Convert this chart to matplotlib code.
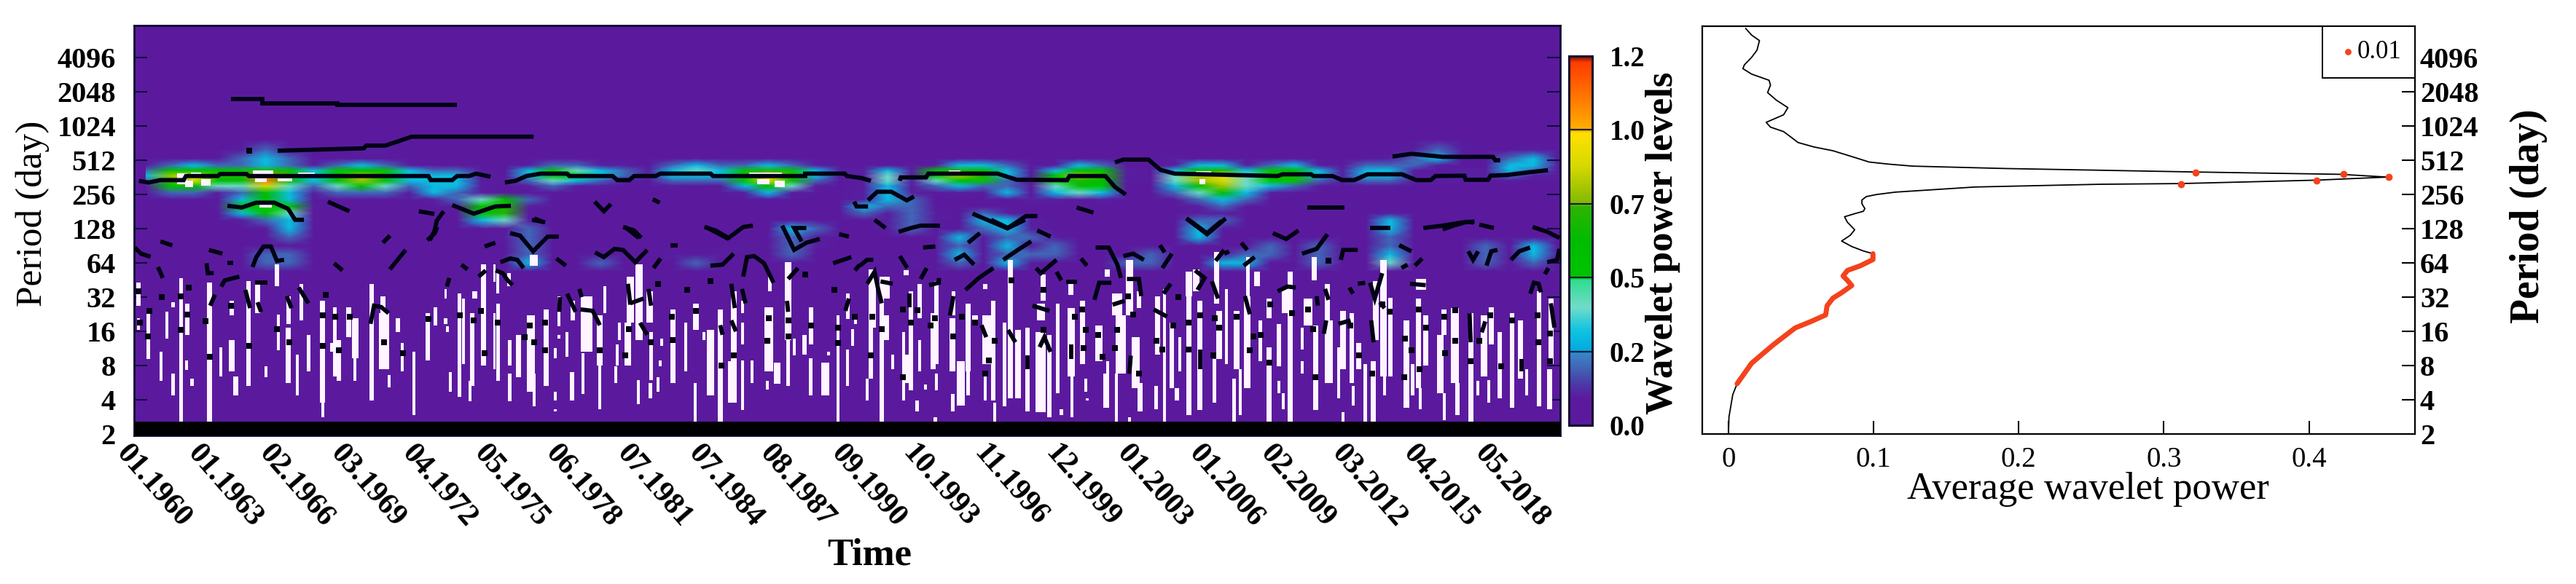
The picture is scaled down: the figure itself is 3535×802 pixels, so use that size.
import numpy as np
import matplotlib
matplotlib.use("Agg")
import matplotlib.pyplot as plt
from matplotlib.colors import LinearSegmentedColormap, Normalize
from matplotlib.cm import ScalarMappable
from matplotlib.transforms import ScaledTranslation

plt.rcParams['font.family'] = ['Liberation Serif', 'DejaVu Serif']

W, H = 3535, 802

# time axis of the wavelet panel, in years
tick_t = [1960, 1962.99, 1965.98, 1968.96, 1971.95, 1974.94, 1977.93, 1980.92, 1983.9, 1986.89,
          1989.88, 1992.87, 1995.86, 1998.84, 2001.83, 2004.82, 2007.81, 2010.8, 2013.78, 2016.77]
tick_dates = ['01.1960', '01.1963', '02.1966', '03.1969', '04.1972', '05.1975', '06.1978', '07.1981',
              '07.1984', '08.1987', '09.1990', '10.1993', '11.1996', '12.1999', '01.2003', '01.2006',
              '02.2009', '03.2012', '04.2015', '05.2018']
t_end = 2019.61

period_log2 = [1, 2, 3, 4, 5, 6, 7, 8, 9, 10, 11, 12]
period_labels = ['2', '4', '8', '16', '32', '64', '128', '256', '512', '1024', '2048', '4096']
cone_top = 1.36  # black strip at the bottom

# power grid, one column per year, digit = power * 10 (a, b = 1.0, 1.1)
power_rows = [
    (9.6,  "0000000000 0000000000 0000000000 0000000000 0000000000 0000000000"),
    (9.3,  "0000121001 1000000000 0000000000 0000000000 0000000000 0001210010"),
    (9.05, "0000232000 0000000000 0000000000 0000000000 0001000000 0012300230"),
    (8.85, "1232232123 2100001221 1023223210 0001332013 2001331231 0222100331"),
    (8.7,  "2565575356 5322103543 2134357531 1315763036 5103673563 1331011321"),
    (8.55, "38977b7368 7333103653 213336a731 1415873058 7104894673 1331111211"),
    (8.4,  "27966b6368 6333102432 1022259620 1414652057 6104894552 1221110100"),
    (8.25, "1564494245 4233101211 0010036410 1312322046 5003684321 0110000000"),
    (8.05, "0221263122 2132100000 0000013100 1310103034 3002463100 0000000000"),
    (7.85, "0000363000 0012462000 0000000000 1320000110 1000232000 0000000000"),
    (7.65, "0001555100 0001671000 0000000000 3220000000 0000120001 1000000000"),
    (7.45, "0000354000 0000670000 0000000000 2121021000 0000110000 0010000000"),
    (7.25, "0000123000 0000341000 0000000000 0121033100 0000220000 0030000000"),
    (7.0,  "0000003000 0000002000 0000000320 0120023100 0000310000 0030000000"),
    (6.75, "0000002000 0000012000 0000000210 0000302210 0000300000 0020000000"),
    (6.5,  "0000000000 0000002000 0000010210 0000203020 0000000202 0020002030"),
    (6.25, "0000022000 0000002001 0010100200 0000302220 0020002202 0030002030"),
    (6.0,  "0000022000 0000003002 0002000100 1010203100 0220033002 0040002020"),
    (5.75, "0000010000 0000000000 0000000000 0000000000 0000000000 0000000000"),
    (5.5,  "0000000000 0000000000 0000000000 0000000000 0000000000 0000000000"),
]

# white cells: (time, duration in years, upper log2 period, lower log2 period)
streaks_1960 = [
    (1960.18, .2, 5.42, 4.75), (1960.18, .15, 4.39, 4.04), (1960.59, .2, 4.6, 3.19), (1961.13, .15, 3.4, 2.55),
    (1961.38, .15, 4.57, 3.79), (1961.63, .15, 2.76, 2.12), (1961.63, .15, 4.85, 4.71), (1961.96, .2, 5.56, 1.36),
    (1962.23, .2, 4.82, 3.9), (1962.19, .15, 3.15, 2.87), (1962.42, .2, 2.62, 2.41), (1963.15, .25, 5.42, 1.36),
    (1963.62, .15, 3.54, 2.69), (1964.09, .3, 3.75, 2.83), (1964.26, .25, 2.69, 2.12), (1964.09, .2, 4.89, 4.46),
    (1964.78, .2, 5.46, 2.41), (1965.16, .25, 5.39, 4.53), (1965.51, .15, 2.98, 2.66), (1965.97, .25, 5.95, 5.31),
    (1966.02, .15, 4.5, 3.44), (1966.46, .2, 5.03, 4.22), (1966.43, .25, 4.11, 2.48), (1966.83, .15, 3.33, 2.12),
    (1966.99, .15, 5.39, 4.32), (1967.29, .2, 3.9, 2.83), (1967.88, .25, 4.89, 1.91), (1967.9, .15, 1.91, 1.49),
    (1968.39, .2, 4.71, 2.69), (1968.56, .2, 3.75, 2.55), (1968.28, .2, 3.65, 3.4), (1968.96, .25, 4.71, 3.83),
    (1969.24, .3, 4.39, 3.22), (1969.24, .15, 3.22, 2.55), (1969.93, .2, 5.39, 1.98), (1970.44, .5, 4.53, 2.9),
    (1970.39, .25, 5.03, 4.46), (1970.66, .15, 2.73, 2.37), (1971.02, .2, 4.39, 3.97), (1971.22, .15, 3.65, 2.83),
    (1971.7, .15, 3.4, 1.56), (1972.28, .2, 4.53, 3.15), (1972.59, .2, 4.71, 4.18), (1973.02, .2, 4.39, 4.22),
    (1973.1, .15, 4.14, 3.97), (1973.21, .15, 2.8, 2.23), (1973.02, .1, 5.24, 4.96), (1973.6, .2, 5.1, 2.09),
    (1973.77, .15, 4.96, 3.05), (1974.14, .2, 4.53, 2.41), (1974.04, .15, 2.55, 1.95), (1974.24, .25, 5.17, 4.96),
    (1974.6, .25, 5.95, 3.0), (1975.07, .1, 5.95, 5.45), (1975.07, .1, 4.53, 2.9),
]
streaks_1975 = [
    (1975.21, .2, 4.82, 2.55), (1975.21, .15, 5.81, 5.1), (1975.7, .15, 3.75, 3.0), (1975.7, .15, 2.76, 1.95),
    (1975.67, .2, 5.7, 5.31), (1976.07, .25, 3.9, 2.66), (1976.58, .4, 4.46, 2.23), (1976.73, .15, 2.76, 1.8),
    (1976.71, .4, 6.24, 5.92), (1977.22, .25, 4.64, 2.41), (1977.6, .15, 3.51, 3.22), (1977.6, .15, 2.23, 1.98),
    (1977.6, .15, 1.73, 1.66), (1977.77, .15, 5.03, 4.14), (1977.77, .15, 3.9, 3.79), (1978.1, .15, 3.97, 3.26),
    (1978.31, .2, 2.8, 1.98), (1978.34, .2, 4.89, 4.32), (1978.76, .15, 3.36, 2.16), (1978.92, .55, 5.03, 3.4),
    (1979.47, .3, 4.46, 3.0), (1979.47, .15, 3.0, 1.73), (1979.68, .15, 5.32, 4.53), (1980.29, .15, 4.25, 3.75),
    (1980.19, .15, 3.61, 3.0), (1980.13, .15, 2.98, 2.48), (1980.64, .35, 4.25, 3.0), (1980.74, .35, 5.6, 4.25),
    (1981.1, .35, 5.95, 3.75), (1981.07, .15, 2.58, 1.88), (1981.55, .3, 5.17, 4.25), (1981.61, .15, 3.97, 2.58),
    (1981.58, .15, 2.48, 2.05), (1982.06, .15, 3.79, 3.58), (1981.99, .15, 3.15, 2.98), (1981.89, .15, 2.65, 2.23),
    (1982.52, .25, 4.64, 2.48), (1983.05, .15, 4.25, 2.83), (1983.48, .3, 4.82, 4.04), (1983.46, .15, 2.48, 1.36),
    (1983.82, .15, 3.97, 3.75), (1984.09, .35, 4.04, 2.12), (1984.5, .25, 4.64, 1.36), (1985.06, .3, 5.17, 3.0),
    (1985.01, .4, 3.12, 1.91), (1985.44, .15, 4.89, 4.53), (1985.44, .15, 4.25, 3.61), (1985.44, .15, 3.15, 1.7),
    (1985.82, .15, 3.15, 2.48), (1986.53, .4, 4.71, 2.83), (1986.88, .3, 3.08, 2.47), (1986.48, .15, 2.55, 2.3),
    (1986.58, .2, 5.67, 5.17), (1987.34, .3, 6.02, 3.75), (1987.34, .2, 3.75, 2.41), (1987.6, .15, 3.79, 3.29),
    (1988.02, .2, 3.9, 3.33), (1988.3, .2, 4.71, 3.61), (1988.28, .2, 3.22, 2.12), (1988.89, .4, 3.08, 2.12),
    (1989.02, .15, 3.4, 3.29), (1989.42, .15, 4.46, 1.36), (1989.83, .2, 5.1, 4.36), (1989.83, .15, 3.47, 2.41),
    (1990.03, .15, 4.07, 3.58), (1990.16, .15, 4.5, 4.22),
]
streaks_1990 = [
    (1990.85, .35, 5.81, 4.11), (1990.8, .2, 4.11, 2.62), (1990.64, .15, 2.62, 1.98), (1991.25, .2, 5.6, 1.36),
    (1991.41, .45, 5.6, 4.96), (1991.46, .25, 4.46, 3.75), (1991.71, .15, 3.33, 2.9), (1992.27, .25, 5.78, 5.63),
    (1992.17, .15, 3.97, 1.98), (1992.27, .3, 3.33, 2.48), (1992.47, .2, 5.17, 2.27), (1992.83, .15, 3.75, 2.83),
    (1992.73, .15, 1.98, 1.66), (1992.83, .2, 5.39, 4.39), (1993.08, .15, 2.44, 2.3), (1993.39, .25, 4.53, 2.9),
    (1993.54, .2, 5.46, 3.05), (1993.54, .15, 2.76, 2.27), (1993.49, .15, 1.49, 1.36), (1994.2, .3, 4.39, 2.83),
    (1994.25, .15, 5.17, 4.46), (1994.22, .15, 2.16, 1.66), (1994.55, .4, 3.12, 1.84), (1994.86, .25, 4.82, 2.83),
    (1994.86, .15, 2.83, 2.12), (1995.16, .3, 4.46, 4.32), (1995.57, .2, 5.39, 5.24), (1995.72, .6, 4.46, 3.05),
    (1995.57, .15, 2.76, 1.98), (1995.92, .2, 4.89, 1.98), (1995.97, .15, 1.91, 1.36), (1996.38, .2, 4.25, 1.8),
    (1996.63, .25, 6.09, 2.05), (1996.94, .3, 4.04, 2.05), (1997.34, .2, 4.11, 1.66), (1997.9, .4, 4.82, 4.32),
    (1998.0, .25, 5.67, 4.89), (1997.9, .5, 3.97, 1.63), (1998.26, .2, 3.9, 1.49), (1998.61, .2, 4.82, 2.2),
    (1998.76, .15, 1.73, 1.55), (1999.17, .35, 4.68, 2.69), (1999.19, .15, 2.69, 1.49), (1999.17, .25, 5.39, 5.07),
    (1999.63, .25, 4.89, 3.05), (1999.78, .15, 2.62, 2.23), (1999.83, .15, 2.05, 1.98), (2000.34, .35, 4.18, 3.12),
    (2000.69, .25, 5.81, 5.6), (2000.64, .3, 2.76, 1.77), (2000.69, .15, 3.12, 2.76), (2001.1, .5, 5.1, 4.46),
    (2001.05, .15, 2.76, 1.36), (2001.25, .5, 4.46, 2.76), (2001.6, .35, 6.09, 4.46), (2001.86, .4, 3.82, 2.34),
    (2002.06, .25, 2.48, 1.66), (2002.01, .2, 5.17, 4.68), (2001.6, .15, 1.49, 1.36), (2002.72, .15, 2.41, 1.73),
    (2002.77, .25, 5.03, 3.33), (2003.08, .15, 5.24, 1.36), (2003.38, .2, 4.25, 2.34), (2003.59, .2, 2.34, 1.98),
    (2003.72, .15, 3.82, 2.83), (2004.09, .3, 5.74, 5.03), (2004.09, .25, 5.03, 1.56), (2004.4, .3, 5.81, 5.17),
    (2004.55, .25, 4.89, 1.7), (2005.16, .2, 3.19, 1.91), (2005.26, .25, 6.31, 4.82), (2005.36, .3, 4.6, 3.19),
]
streaks_2005 = [
    (2005.67, .15, 5.24, 3.05), (2005.98, .15, 2.62, 1.36), (2006.08, .3, 4.6, 2.9), (2006.23, .15, 2.9, 1.56),
    (2006.53, .3, 5.03, 2.34), (2006.56, .2, 6.17, 5.03), (2006.94, .3, 5.74, 5.31), (2007.07, .2, 4.32, 3.12),
    (2007.45, .25, 4.96, 4.39), (2007.45, .25, 3.54, 1.36), (2007.85, .2, 4.22, 2.98), (2007.85, .15, 2.55, 2.2),
    (2008.04, .15, 2.2, 1.73), (2008.11, .35, 5.24, 4.53), (2008.31, .25, 5.74, 1.36), (2008.82, .15, 3.12, 2.76),
    (2008.82, .15, 4.11, 3.47), (2009.33, .25, 6.17, 5.49), (2009.07, .4, 4.96, 4.18), (2009.38, .25, 4.18, 1.7),
    (2009.88, .25, 5.39, 4.25), (2009.93, .4, 4.32, 2.48), (2010.34, .15, 3.54, 2.05), (2010.54, .3, 4.6, 2.9),
    (2010.54, .15, 1.63, 1.36), (2010.9, .2, 4.53, 2.48), (2010.95, .15, 2.41, 1.84), (2011.2, .25, 3.65, 2.9),
    (2011.46, .2, 3.05, 1.36), (2011.81, .25, 3.12, 1.36), (2011.91, .3, 5.46, 3.75), (2012.22, .3, 6.09, 2.69),
    (2012.27, .15, 2.69, 2.12), (2012.52, .2, 4.99, 2.69), (2013.18, .3, 4.32, 1.77), (2013.44, .2, 3.05, 2.12),
    (2013.69, .25, 4.96, 2.34), (2013.77, .15, 2.34, 1.73), (2013.79, .5, 5.53, 5.21), (2014.0, .25, 4.46, 3.0),
    (2014.6, .3, 3.9, 2.2), (2014.76, .25, 4.64, 3.9), (2014.76, .15, 2.2, 1.41), (2015.21, .4, 4.68, 2.48),
    (2015.31, .2, 2.48, 1.56), (2015.87, .25, 4.53, 1.36), (2016.18, .15, 2.55, 2.12), (2016.43, .35, 4.46, 2.69),
    (2016.63, .15, 2.58, 1.91), (2016.73, .25, 4.71, 3.61), (2017.09, .2, 3.97, 2.05), (2017.6, .25, 4.53, 1.77),
    (2017.95, .25, 4.32, 2.62), (2018.2, .15, 2.9, 2.12), (2018.72, .2, 5.17, 1.8), (2019.22, .25, 4.96, 3.05),
    (2019.17, .25, 2.9, 1.73),
]
# white patches inside the strongest part of the annual band
streaks_band = [
    (1962.0, .5, 8.62, 8.3), (1962.6, .5, 8.64, 8.5), (1963.0, .5, 8.45, 8.25), (1962.3, .4, 8.4, 8.22),
    (1965.4, 1.0, 8.7, 8.57), (1965.3, .6, 8.47, 8.36), (1966.3, .7, 8.47, 8.38), (1967.2, .8, 8.64, 8.57),
    (1965.5, .6, 7.72, 7.62), (1986.4, 1.6, 8.64, 8.57), (1986.3, .6, 8.45, 8.3), (1987.0, .5, 8.4, 8.22),
    (1994.3, .6, 8.7, 8.64), (2004.7, .75, 8.68, 8.62), (2004.65, .3, 8.45, 8.3),
]

# black ridge lines, (time, log2 period)
ridges_long = [
    [(1964.05, 10.79), (1965.37, 10.79), (1965.37, 10.67), (1968.5, 10.67), (1968.5, 10.61), (1973.5, 10.61)],
    [(1966.0, 9.28), (1969.6, 9.35), (1969.7, 9.43), (1970.5, 9.43), (1971.1, 9.57), (1971.6, 9.69), (1976.7, 9.69)],
    [(1960.2, 8.40), (1960.6, 8.35), (1961.1, 8.42), (1962.07, 8.42), (1962.17, 8.54), (1963.5, 8.54), (1963.6, 8.60),
     (1964.7, 8.60), (1964.8, 8.54), (1972.3, 8.54), (1972.4, 8.42), (1973.3, 8.42), (1973.5, 8.54), (1974.0, 8.54),
     (1974.3, 8.61), (1974.9, 8.52)],
    [(1975.5, 8.35), (1975.95, 8.40), (1976.4, 8.54), (1977.0, 8.61), (1978.1, 8.61), (1978.2, 8.54), (1980.0, 8.54),
     (1980.2, 8.42), (1980.7, 8.42), (1980.9, 8.54), (1981.8, 8.54), (1982.0, 8.61), (1984.1, 8.61), (1984.2, 8.54),
     (1988.05, 8.54), (1988.05, 8.61), (1989.7, 8.61), (1989.8, 8.54), (1990.4, 8.48), (1990.8, 8.40)],
    [(1992.0, 8.40), (1992.05, 8.50), (1993.1, 8.50), (1993.2, 8.61), (1996.1, 8.61), (1996.9, 8.43), (1999.0, 8.42),
     (1999.1, 8.54), (2000.6, 8.54), (2001.0, 8.22), (2001.45, 8.0)],
    [(2001.0, 8.94), (2001.35, 9.02), (2002.4, 9.02), (2002.9, 8.72), (2003.5, 8.61), (2007.8, 8.54), (2008.0, 8.59),
     (2009.2, 8.59), (2009.3, 8.54), (2010.1, 8.54), (2010.5, 8.42), (2011.0, 8.42), (2011.55, 8.59), (2013.0, 8.59),
     (2013.6, 8.42), (2014.2, 8.42), (2014.4, 8.54), (2015.6, 8.55), (2015.66, 8.43), (2016.6, 8.43), (2016.7, 8.55),
     (2017.4, 8.57), (2018.3, 8.65), (2019.1, 8.71)],
    [(2012.6, 9.11), (2013.4, 9.19), (2014.7, 9.10), (2016.8, 9.10), (2016.9, 9.0), (2017.1, 9.0)],
]
ridges_mid = [
    [(1963.9, 7.67), (1964.5, 7.62), (1965.1, 7.76), (1965.86, 7.76), (1966.44, 7.58), (1966.73, 7.26), (1967.1, 7.26)],
    [(1968.1, 7.79), (1969.0, 7.51)], [(1971.9, 7.51), (1972.55, 7.43)],
    [(1972.94, 7.51), (1972.65, 7.23), (1972.56, 6.94), (1972.36, 6.66)],
    [(1973.3, 7.69), (1974.2, 7.44), (1975.1, 7.65), (1975.75, 7.67)],
    [(1979.25, 7.79), (1979.64, 7.51), (1979.93, 7.72)], [(1981.68, 7.86), (1981.97, 7.76)],
    [(1976.73, 7.3), (1977.12, 7.19)], [(1980.52, 7.05), (1981.1, 6.73)], [(1983.9, 7.05), (1984.85, 6.7)],
    [(1990.1, 7.79), (1990.2, 7.65), (1990.68, 7.65)],
    [(1990.68, 7.83), (1991.06, 8.08), (1991.65, 8.08), (1992.3, 7.83), (1992.6, 7.94)],
    [(1995.05, 7.44), (1996.5, 7.01), (1997.28, 7.37), (1997.76, 7.37)],
    [(1999.4, 7.62), (2000.1, 7.47)], [(2003.98, 7.3), (2004.85, 6.84), (2005.63, 7.3)],
    [(2009.03, 7.62), (2010.6, 7.62)], [(2014.7, 6.98), (2015.2, 7.1), (2015.7, 7.2), (2016.0, 7.18)],
]
ridges_low_a = [
    [(1960.03, 6.45), (1960.29, 6.27), (1960.69, 6.18)], [(1961.1, 6.63), (1961.6, 6.51)], [(1961.0, 5.88), (1961.2, 5.56)],
    [(1963.13, 6.38), (1963.69, 6.27)], [(1963.03, 5.99), (1963.08, 5.70), (1963.33, 5.70)], [(1963.89, 6.01), (1964.14, 6.01)],
    [(1963.64, 5.31), (1963.79, 5.49), (1964.4, 5.6)],
    [(1964.95, 5.88), (1965.11, 6.17), (1965.41, 6.48), (1965.72, 6.48), (1965.97, 6.06), (1966.27, 6.09)],
    [(1965.06, 5.42), (1965.56, 5.42)], [(1964.65, 5.21), (1964.85, 4.68)], [(1965.16, 4.85), (1965.31, 4.57)],
    [(1970.4, 6.59), (1970.7, 6.80)], [(1970.69, 5.81), (1971.35, 6.38)], [(1972.26, 6.66), (1972.57, 6.87), (1972.67, 7.05)],
    [(1968.36, 5.99), (1968.71, 5.78)], [(1973.07, 5.31), (1973.18, 5.56)], [(1973.68, 5.95), (1973.94, 5.81)],
    [(1974.4, 5.6), (1974.7, 5.78)], [(1974.65, 6.48), (1975.1, 6.59)], [(1966.88, 5.28), (1967.29, 4.82)],
    [(1969.88, 4.22), (1970.03, 4.75), (1970.33, 4.71), (1970.64, 4.53)], [(1966.38, 5.03), (1966.58, 4.68)],
    [(1963.18, 4.75), (1963.38, 5.07)],
    [(1975.72, 6.87), (1976.13, 6.80), (1976.68, 6.34), (1977.29, 6.77), (1977.75, 6.77)],
    [(1975.31, 6.02), (1975.72, 6.13), (1976.02, 6.09), (1976.28, 5.85)],
    [(1975.11, 5.78), (1975.41, 5.70), (1975.57, 5.53), (1975.82, 5.35)], [(1976.63, 7.26), (1977.19, 7.19)],
    [(1980.44, 7.05), (1980.9, 6.95), (1981.2, 6.73)], [(1977.65, 6.13), (1978.05, 5.92)],
    [(1979.27, 6.31), (1979.63, 6.17), (1980.08, 6.41), (1980.44, 6.38), (1980.95, 6.02), (1981.45, 6.38)],
    [(1982.42, 6.52), (1982.72, 6.52)], [(1981.71, 5.85), (1982.01, 6.13)],
    [(1983.84, 7.05), (1984.3, 6.95), (1984.85, 6.73), (1985.46, 7.05), (1985.87, 7.09)],
    [(1984.09, 5.92), (1984.6, 5.95), (1985.06, 6.27)],
    [(1985.46, 5.6), (1985.62, 6.17), (1985.92, 6.2), (1986.33, 5.99), (1986.73, 5.42)],
    [(1987.09, 7.09), (1987.59, 6.38), (1988.1, 6.59), (1988.66, 6.7)], [(1987.9, 6.63), (1987.59, 7.02), (1988.1, 7.02)],
    [(1987.34, 5.53), (1987.75, 5.85)], [(1989.47, 6.84), (1989.88, 6.77)], [(1989.22, 5.99), (1989.98, 6.17)],
    [(1990.13, 5.78), (1990.33, 5.95)], [(1978.61, 5.24), (1978.71, 5.0)], [(1977.8, 5.0), (1977.77, 4.57)],
    [(1978.1, 5.1), (1978.46, 4.57)], [(1978.66, 4.64), (1979.17, 4.6), (1979.47, 4.18)], [(1980.64, 5.39), (1980.74, 4.78)],
    [(1980.74, 4.82), (1981.3, 4.96)], [(1981.5, 5.24), (1981.61, 4.75)], [(1981.15, 4.25), (1981.45, 3.9)],
    [(1984.5, 4.18), (1984.6, 3.9)], [(1984.96, 5.39), (1985.11, 4.68)], [(1985.41, 5.24), (1985.56, 4.82)],
    [(1984.96, 4.32), (1985.16, 4.0)], [(1987.29, 4.89), (1987.34, 4.57)], [(1989.73, 4.6), (1989.88, 4.96)],
]
ridges_low_b = [
    [(1990.95, 7.26), (1991.41, 7.02)], [(1991.96, 6.91), (1992.47, 7.02), (1992.88, 7.09), (1993.69, 7.09)],
    [(1992.98, 6.45), (1993.49, 6.48)], [(1994.86, 6.59), (1995.36, 6.87)], [(1994.3, 6.09), (1994.7, 6.24), (1995.11, 5.95)],
    [(1995.82, 7.26), (1996.53, 7.02), (1997.24, 7.26)], [(1997.75, 6.95), (1998.31, 6.77)],
    [(1996.33, 6.09), (1996.94, 6.38), (1997.5, 6.63)], [(1997.7, 5.85), (1997.9, 5.7), (1998.56, 6.09)],
    [(1992.01, 6.2), (1992.32, 5.85)], [(1990.34, 5.92), (1990.64, 6.09), (1990.9, 6.09)], [(1992.88, 5.53), (1993.13, 5.85)],
    [(1993.23, 5.35), (1993.64, 5.42), (1993.64, 5.56)], [(1994.75, 5.21), (1995.31, 5.56), (1995.92, 5.85)],
    [(1990.64, 5.39), (1990.95, 5.74), (1991.1, 5.24), (1991.25, 4.82)], [(1991.2, 5.46), (1991.71, 5.39)],
    [(1992.42, 5.1), (1992.42, 4.71)], [(1994.25, 5.03), (1994.1, 4.46)], [(1999.58, 6.13), (1999.83, 5.92)],
    [(2000.19, 6.45), (2000.74, 6.45), (2001.1, 5.95), (2001.25, 5.56)], [(2001.35, 6.2), (2001.76, 6.27), (2002.21, 6.09)],
    [(2002.88, 6.52), (2003.08, 6.31)], [(2002.98, 5.85), (2003.38, 6.27)],
    [(2000.14, 4.92), (2000.34, 5.42), (2000.85, 5.42)], [(1998.97, 5.44), (1999.42, 5.44)], [(1998.56, 5.74), (1998.76, 5.49)],
    [(2004.0, 7.3), (2004.85, 6.87), (2005.46, 7.23)], [(2005.21, 6.06), (2005.56, 6.38)],
    [(2004.35, 5.78), (2004.75, 5.56), (2004.45, 5.21)], [(2003.03, 5.1), (2003.33, 5.39)],
    [(2001.5, 5.53), (2002.0, 5.53), (2002.1, 5.03)], [(2000.9, 4.78), (2001.4, 4.89)], [(2005.05, 5.46), (2005.31, 4.96)],
    [(2002.62, 4.64), (2003.18, 4.43)], [(1997.55, 4.75), (1998.26, 4.6)], [(1996.53, 4.04), (1996.84, 3.68)],
    [(1997.85, 3.54), (1998.05, 3.83), (1998.31, 3.4)], [(1995.42, 4.18), (1995.62, 3.83)], [(1997.34, 3.29), (1997.34, 2.9)],
    [(2004.55, 3.47), (2004.55, 2.9)], [(2001.66, 3.29), (2001.6, 2.76)], [(1999.17, 3.61), (1999.17, 3.19)],
    [(2005.57, 6.27), (2005.77, 6.34)], [(2006.28, 6.59), (2006.53, 6.38)], [(2007.6, 6.87), (2008.16, 6.7), (2008.67, 6.95)],
    [(2008.82, 6.27), (2009.43, 6.41), (2009.88, 6.84)], [(2010.44, 6.09), (2010.54, 6.38), (2011.15, 6.38)],
    [(2011.66, 7.02), (2012.52, 7.02)], [(2012.88, 6.52), (2013.39, 6.34)], [(2013.54, 5.92), (2013.84, 6.13)],
    [(2012.98, 5.85), (2013.23, 5.95)], [(2013.89, 7.02), (2014.7, 7.09), (2015.57, 7.19), (2016.03, 7.21)],
    [(2016.23, 7.12), (2016.84, 7.02)], [(2015.77, 6.34), (2015.97, 6.09), (2016.18, 6.34)],
    [(2016.53, 5.92), (2016.73, 6.34), (2016.99, 6.38)], [(2017.55, 6.09), (2017.9, 6.34), (2018.35, 6.45)],
    [(2018.46, 7.05), (2019.07, 6.91), (2019.58, 6.73)], [(2019.07, 6.02), (2019.48, 6.09), (2019.58, 6.41)],
    [(2018.97, 5.67), (2019.12, 5.85)], [(2018.36, 5.1), (2018.51, 5.42), (2018.71, 5.39), (2018.81, 5.14)],
    [(2006.38, 5.92), (2006.84, 6.17)], [(2007.8, 5.17), (2008.21, 5.31), (2008.56, 5.28)], [(2011.15, 5.39), (2011.46, 5.42)],
    [(2010.8, 5.28), (2010.95, 5.1)], [(2011.66, 5.42), (2011.86, 4.96), (2012.17, 5.7)], [(2012.07, 4.85), (2012.27, 4.68)],
    [(2013.33, 5.39), (2013.99, 5.35)], [(2006.43, 5.03), (2006.64, 4.5)], [(2010.34, 4.22), (2010.85, 4.32)],
    [(2009.43, 5.03), (2009.48, 4.75)], [(2009.78, 5.24), (2009.93, 4.92)], [(2009.73, 3.93), (2009.83, 4.32)],
    [(2011.71, 4.32), (2011.81, 3.68)], [(2015.82, 4.53), (2015.87, 3.68)], [(2016.33, 3.97), (2016.48, 4.29)],
    [(2019.22, 4.82), (2019.37, 4.11)], [(2018.0, 3.19), (2018.0, 2.83)],
]
# isolated ridge cells
spot_t = [1960.18, 1961.15, 1961.96, 1962.21, 1961.96, 1960.59, 1960.64, 1966.48, 1967.9, 1967.9, 1968.41, 1968.56, 1969.01,
          1970.44, 1972.31, 1973.63, 1974.5, 1974.65, 1974.19, 1965.97, 1964.8, 1963.18, 1962.98, 1964.04, 1968.0, 1960.23,
          1962.27, 1971.25, 1964.8, 1981.91, 1983.13, 1984.09, 1988.05, 1989.27, 1975.21, 1976.53, 1976.33, 1976.73, 1977.19,
          1977.19, 1979.47, 1980.69, 1980.54, 1982.52, 1981.61, 1984.55, 1985.06, 1986.53, 1986.48, 1987.34, 1987.34, 1988.3,
          1989.42, 1989.42, 1983.48, 1982.47, 1990.14, 1990.85, 1991.25, 1990.8, 1992.15, 1992.47, 1992.73, 1992.15, 1993.28,
          1993.49, 1994.25, 1994.6, 1995.16, 1995.97, 1995.57, 1995.72, 1996.68, 1998.0, 1998.0, 1999.63, 1999.32, 1999.78,
          1999.68, 2000.49, 2000.29, 2001.1, 2001.56, 2001.76, 2001.0, 2002.01, 2002.72, 2003.43, 2002.98, 2003.64, 2004.09,
          2004.55, 2004.09, 2005.16, 2005.36, 2005.11, 2006.08, 2006.79, 2007.09, 2006.64, 2007.45, 2007.5, 2008.39, 2009.07,
          2009.27, 2009.38, 2009.93, 2010.85, 2011.2, 2011.76, 2012.17, 2012.47, 2013.13, 2013.39, 2013.74, 2013.08, 2013.69,
          2014.0, 2014.76, 2015.21, 2015.21, 2014.81, 2016.23, 2016.68, 2015.87, 2017.14, 2017.6, 2018.66, 2018.71, 2019.17,
          2019.17]
spot_p = [5.17, 5.0, 5.03, 4.5, 4.04, 3.86, 4.6, 3.68, 4.46, 3.58, 4.43, 3.44, 4.43,
          3.68, 4.36, 4.46, 4.6, 3.37, 4.32, 4.07, 3.58, 3.26, 4.29, 4.75, 5.07, 4.25,
          5.28, 3.37, 9.28, 5.39, 5.21, 5.46, 5.66, 5.21, 4.25, 4.18, 3.83, 3.68, 4.25,
          3.44, 3.44, 4.07, 3.29, 3.75, 3.68, 3.01, 3.29, 4.39, 3.72, 4.32, 3.86, 4.18,
          4.11, 3.65, 4.6, 4.43, 4.43, 4.43, 4.07, 3.29, 4.64, 4.25, 4.61, 2.66, 4.18,
          4.39, 3.86, 4.43, 4.25, 3.72, 2.76, 3.15, 5.49, 5.21, 4.04, 4.64, 4.43, 4.04,
          3.51, 3.26, 3.9, 4.04, 5.03, 4.5, 3.51, 2.76, 3.72, 4.18, 3.47, 5.0, 4.25,
          4.46, 3.47, 4.39, 4.11, 3.29, 4.43, 3.86, 3.9, 3.44, 3.08, 4.78, 4.53, 4.64,
          4.07, 2.66, 6.06, 4.18, 3.29, 2.76, 4.78, 4.57, 3.79, 3.44, 2.9, 2.66, 4.64,
          4.11, 4.43, 4.61, 3.72, 3.36, 3.72, 4.46, 3.12, 2.98, 4.32, 4.46, 3.68, 3.93,
          3.12]

# average wavelet power against log2 period
avg_power = [.012, .016, .0214, .0197, .016, .011, .010, .016, .028, .029, .027, .033, .041, .038, .026, .029, .038,
             .044, .048, .059, .072, .085, .097, .110, .127, .191, .256, .320, .422, .454, .405, .311, .256, .170,
             .115, .102, .095, .092, .092, .094, .093, .087, .080, .082, .087, .084, .078, .085, .093, .0996, .0996,
             .091, .082, .079, .082, .085, .078, .072, .068, .067, .057, .046, .031, .016, .006, .003, .0004, 0]
avg_period = [12.85, 12.66, 12.50, 12.22, 12.01, 11.79, 11.68, 11.52, 11.34, 11.20, 10.98, 10.76, 10.54, 10.33, 10.11,
              9.97, 9.84, 9.65, 9.52, 9.39, 9.28, 9.11, 8.95, 8.89, 8.83, 8.76, 8.71, 8.66, 8.59, 8.51, 8.42, 8.32,
              8.30, 8.22, 8.07, 8.0, 7.94, 7.84, 7.73, 7.59, 7.51, 7.44, 7.35, 7.19, 6.97, 6.81, 6.64, 6.48, 6.35,
              6.27, 6.10, 5.92, 5.78, 5.62, 5.49, 5.34, 5.13, 4.97, 4.75, 4.48, 4.29, 4.10, 3.61, 3.07, 2.47, 2.15,
              1.5, 1]
# stretch significant at 0.01
sig_power = [.0996, .0996, .091, .082, .079, .082, .085, .078, .072, .068, .067, .057, .046, .031, .016, .006]
sig_period = [6.27, 6.10, 5.92, 5.78, 5.62, 5.49, 5.34, 5.13, 4.97, 4.75, 4.48, 4.29, 4.10, 3.61, 3.07, 2.47]
sig_peak_power = [.322, .424, .455, .405, .312]
sig_peak_period = [8.65, 8.59, 8.51, 8.41, 8.31]
x_ticks_avg = [0, 0.1, 0.2, 0.3, 0.4]
x_labels_avg = ['0', '0.1', '0.2', '0.3', '0.4']

cbar_ticks = [0, .25, .5, .75, 1.0, 1.25]
cbar_labels = ['0.0', '0.2', '0.5', '0.7', '1.0', '1.2']


def px_axes(fig, left, right, top, bottom):
    return fig.add_axes([left / W, 1 - bottom / H, (right - left) / W, (bottom - top) / H])


power_cmap = LinearSegmentedColormap.from_list('power', [
    (0.0, '#5b1a9e'), (0.072, '#5b1a9e'), (0.112, '#4a3aa8'), (0.16, '#3f6ab8'), (0.195, '#3a85c8'),
    (0.2, '#00a8e0'), (0.256, '#10c4e0'), (0.32, '#70dcc8'), (0.392, '#30dc90'),
    (0.4, '#00c400'), (0.5, '#00bc00'), (0.592, '#2cb400'),
    (0.6, '#80b800'), (0.7, '#d4d800'), (0.792, '#ffe000'),
    (0.8, '#ffb000'), (0.9, '#ff7000'), (0.985, '#ff3c00'), (1.0, '#7a1000')])
norm = Normalize(0, 1.25)

fig = plt.figure(figsize=(W / 100, H / 100), dpi=100)

# wavelet power panel
ax = px_axes(fig, 184, 2141, 35, 598)
ax.set_facecolor(power_cmap(0.0))
row_p = np.array([r[0] for r in power_rows])
col_t = np.arange(60) + 1960.5
digits = '0123456789abc'
grid = np.array([[digits.index(c) * 0.1 for c in r[1].replace(' ', '')] for r in power_rows])
ax.pcolormesh(col_t, row_p, grid, cmap=power_cmap, norm=norm, shading='gouraud', zorder=1, rasterized=True)

for group in (streaks_1960, streaks_1975, streaks_1990, streaks_2005, streaks_band):
    t, dur, top, low = zip(*group)
    ax.bar(t, np.array(top) - np.array(low), width=np.array(dur) * 0.85, bottom=low, color='#fff4ff', linewidth=0, zorder=2)

for group in (ridges_long, ridges_mid, ridges_low_a, ridges_low_b):
    for seg in group:
        ax.plot(*zip(*seg), color='#020214', lw=4.2, solid_capstyle='butt', solid_joinstyle='miter', zorder=3)
ax.scatter(spot_t, spot_p, marker='s', s=26, color='#020214', linewidth=0, zorder=3)

ax.bar(1990, cone_top - 0.9, width=80, bottom=0.9, color='black', linewidth=0, zorder=4)
ax.set_xlim(1960, t_end)
ax.set_ylim(0.957, 12.94)
ax.set_yticks(period_log2, period_labels, fontsize=29, fontweight='bold')
ax.tick_params(axis='y', left=True, right=True, direction='in', length=13, width=1.5, color='#120c3c', pad=18)
ax.set_xticks(tick_t, tick_dates, fontsize=30, fontweight='bold')
ax.tick_params(axis='x', bottom=False, pad=10)
shift = ScaledTranslation(-18 / 100, 0, fig.dpi_scale_trans)
for lab in ax.get_xticklabels():
    lab.set_rotation(-49)
    lab.set_ha('left')
    lab.set_va('center')
    lab.set_rotation_mode('anchor')
    lab.set_transform(lab.get_transform() + shift)
for sp in ax.spines.values():
    sp.set_color('#0c0830')
    sp.set_linewidth(2)

fig.text(45 / W, 1 - 293 / H, 'Period (day)', rotation=90, fontsize=37, ha='center', va='center')
fig.text(1193 / W, 1 - 763 / H, 'Time', fontsize=38, fontweight='bold', ha='center', va='center')

# colour bar
cax = px_axes(fig, 2153, 2185, 77, 584)
cb = fig.colorbar(ScalarMappable(norm=norm, cmap=power_cmap), cax=cax)
cb.set_ticks(cbar_ticks, labels=cbar_labels)
cb.ax.tick_params(length=0, labelsize=28, pad=17)
plt.setp(cb.ax.get_yticklabels(), fontweight='bold')
cb.outline.set_linewidth(2.2)
cb.outline.set_edgecolor('#160a30')
for v in cbar_ticks:
    cax.axhline(v, color='#102030', lw=1.6)
fig.text(2282 / W, 1 - 334 / H, 'Wavelet power levels', rotation=90, fontsize=38, fontweight='bold',
         ha='center', va='center')

# average power panel
axr = px_axes(fig, 2336, 3314, 36, 596)
axr.plot(avg_power, avg_period, color='black', lw=1.3, zorder=2)
axr.plot(sig_power, sig_period, color='#f4421c', lw=5, solid_capstyle='round', zorder=3)
axr.scatter(sig_peak_power, sig_peak_period, marker='o', s=50, color='#f4421c', linewidth=0, zorder=3,
            label='0.01')
axr.set_xlim(-0.018, 0.473)
axr.set_ylim(1, 12.92)
axr.set_xticks(x_ticks_avg, x_labels_avg, fontsize=28)
axr.tick_params(axis='x', direction='in', length=13, width=1.5, pad=12)
axr.yaxis.tick_right()
axr.set_yticks(period_log2, period_labels, fontsize=29, fontweight='bold')
axr.tick_params(axis='y', direction='in', length=13, width=1.5, pad=5)
for sp in axr.spines.values():
    sp.set_linewidth(1.6)
fig.text(2865 / W, 1 - 672 / H, 'Average wavelet power', fontsize=38, ha='center', va='center')
fig.text(3470 / W, 1 - 297 / H, 'Period (day)', rotation=90, fontsize=40, fontweight='bold', ha='center', va='center')
leg = axr.legend(loc='upper right', bbox_to_anchor=(1, 1), borderaxespad=0, fontsize=25, frameon=True, fancybox=False,
                 edgecolor='black', framealpha=1, handletextpad=-0.1, handlelength=0.9, borderpad=0.55, markerscale=0.9)
leg.get_frame().set_linewidth(1.4)

fig.savefig('out.png', dpi=100)
